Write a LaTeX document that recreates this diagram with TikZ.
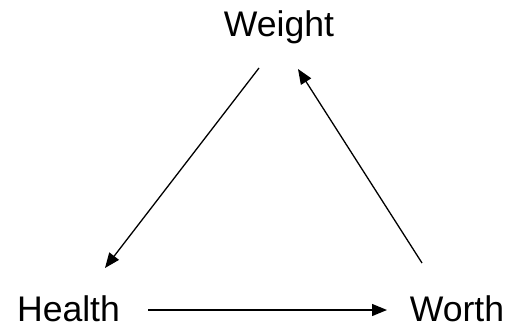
\documentclass[tikz,border=0pt]{standalone}
\usepackage{fontspec}
\setmainfont{Liberation Sans}
\usetikzlibrary{arrows.meta}
\begin{document}
\begin{tikzpicture}[x=1pt,y=1pt,
    label/.style={anchor=base, inner sep=0pt, font=\fontsize{35.6}{40}\selectfont},
    link/.style={line width=1.3pt, -{Triangle[length=15pt,width=12pt]}}]
    % Fix the page size
    \useasboundingbox (0,0) rectangle (513,335);

    % The three words
    \node[label] (weight) at (279,298) {Weight};
    \node[label] (health) at (68.5,14) {Health};
    \node[label] (worth) at (457,14) {Worth};

    % Arrows round the triangle
    \draw[link] ([xshift=-20pt,yshift=-31pt]weight.base) -- ([xshift=36.5pt,yshift=53pt]health.base);
    \draw[link] ([xshift=79.5pt,yshift=11pt]health.base) -- ([xshift=-70pt,yshift=11pt]worth.base);
    \draw[link] ([xshift=-35pt,yshift=58pt]worth.base) -- ([xshift=19pt,yshift=-32pt]weight.base);
\end{tikzpicture}
\end{document}
